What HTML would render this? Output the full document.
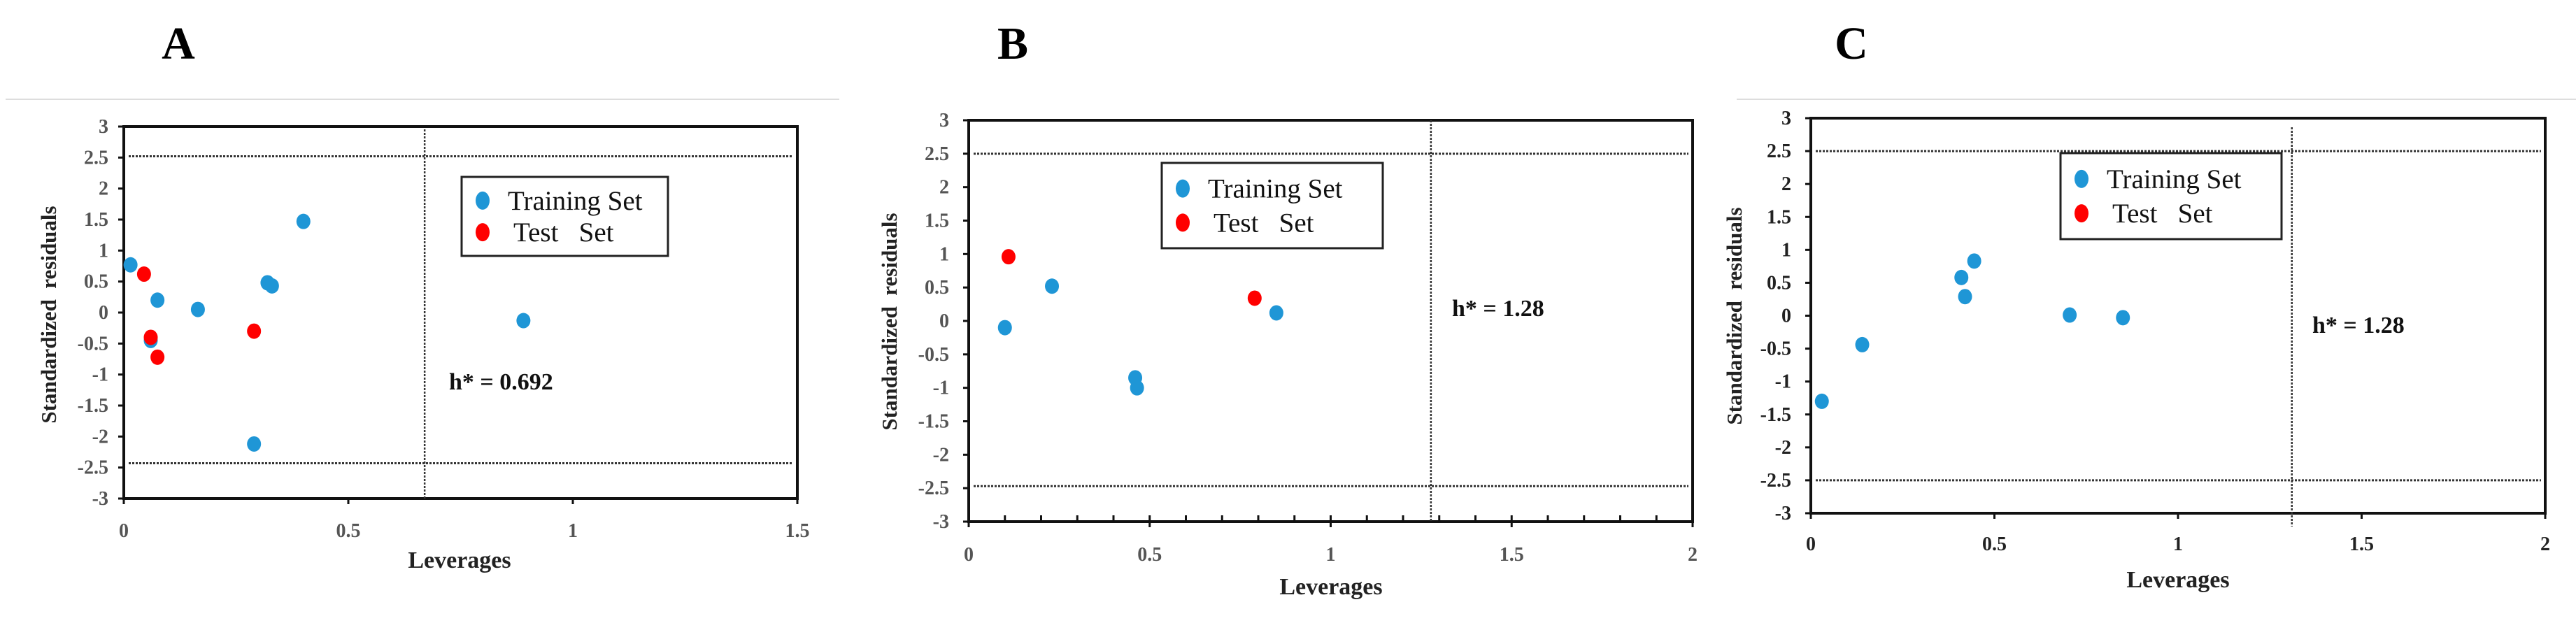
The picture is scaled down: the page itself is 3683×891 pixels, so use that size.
<!DOCTYPE html>
<html><head><meta charset="utf-8"><style>
html,body{margin:0;padding:0;background:#fff;}
svg{display:block;}
text{font-family:"Liberation Serif",serif;white-space:pre;}
</style></head><body>
<svg id="fig" width="3683" height="891" viewBox="0 0 3683 891" xmlns="http://www.w3.org/2000/svg"></svg>
<script>
// Panel A data
const aTrainX = [0.015, 0.075, 0.165, 0.32, 0.33, 0.40, 0.29, 0.89, 0.06];
const aTrainY = [0.77, 0.20, 0.05, 0.48, 0.43, 1.47, -2.12, -0.13, -0.45];
const aTestX = [0.045, 0.06, 0.075, 0.29];
const aTestY = [0.62, -0.40, -0.72, -0.30];
const aXTicks = [0, 0.5, 1, 1.5];
const aHStar = 0.67;
const aHLabel = "h* = 0.692";
// Panel B data
const bTrainX = [0.10, 0.23, 0.46, 0.465, 0.85];
const bTrainY = [-0.10, 0.52, -0.85, -1.0, 0.12];
const bTestX = [0.11, 0.79];
const bTestY = [0.96, 0.34];
const bXTicks = [0, 0.5, 1, 1.5, 2];
const bHStar = 1.277;
const bHLabel = "h* = 1.28";
// Panel C data
const cTrainX = [0.03, 0.14, 0.41, 0.42, 0.445, 0.705, 0.85];
const cTrainY = [-1.30, -0.44, 0.58, 0.29, 0.83, 0.01, -0.03];
const cTestX = [];
const cTestY = [];
const cXTicks = [0, 0.5, 1, 1.5, 2];
const cHStar = 1.31;
const cHLabel = "h* = 1.28";
const yTicks = [3, 2.5, 2, 1.5, 1, 0.5, 0, -0.5, -1, -1.5, -2, -2.5, -3];
const yTickLabels = ["3","2.5","2","1.5","1","0.5","0","-0.5","-1","-1.5","-2","-2.5","-3"];
const warnUpper = [2.52, 2.5, 2.5];
const warnLower = [-2.43, -2.47, -2.5];

const NS = "http://www.w3.org/2000/svg";
const svg = document.getElementById('fig');
function mk(tag, attrs, parent, txt){
  const e = document.createElementNS(NS, tag);
  for (const k in attrs) e.setAttribute(k, attrs[k]);
  if (txt !== undefined) e.textContent = txt;
  (parent||svg).appendChild(e);
  return e;
}

const panels = [
  {id:'a', letter:'A', lx:255, L:177, R:1140, T:181, B:713, xmax:1.5, trX:aTrainX, trY:aTrainY, teX:aTestX, teY:aTestY, xt:aXTicks, h:aHStar, hl:aHLabel,
   hx:642, hy:557, legend:[660,253,295,113], levx:657, levy:812, ytx:70, yty:450, lblR:155, xly:768, minor:false, grey:[8,1200], lblColor:'#555', hlineX0:184, vT:185, vB:713},
  {id:'b', letter:'B', lx:1448, L:1385, R:2420, T:172, B:746, xmax:2, trX:bTrainX, trY:bTrainY, teX:bTestX, teY:bTestY, xt:bXTicks, h:bHStar, hl:bHLabel,
   hx:2076, hy:452, legend:[1661,233,316,122], levx:1903, levy:850, ytx:1272, yty:460, lblR:1357, xly:802, minor:true, grey:null, lblColor:'#555', hlineX0:1392, vT:172, vB:746},
  {id:'c', letter:'C', lx:2647, L:2589, R:3639, T:169, B:734, xmax:2, trX:cTrainX, trY:cTrainY, teX:cTestX, teY:cTestY, xt:cXTicks, h:cHStar, hl:cHLabel,
   hx:3306, hy:476, legend:[2946,219,316,123], levx:3114, levy:840, ytx:2480, yty:452, lblR:2561, xly:787, minor:false, grey:[2483,3683], lblColor:'#222', hlineX0:2596, vT:182, vB:753}
];

panels.forEach((p, i) => {
  const g = mk('g', {});
  
  
  const sx = v => p.L + (v / p.xmax) * (p.R - p.L);
  const sy = v => p.T + ((3 - v) / 6) * (p.B - p.T);

  const t = mk('text', {x:p.lx, y:84, 'font-size':66, 'font-weight':'bold', 'text-anchor':'middle', fill:'#000'}, g, p.letter);
  
  

  if (p.grey) {
    const gl = mk('line', {x1:p.grey[0], x2:p.grey[1], y1:142, y2:142, stroke:'#ddd', 'stroke-width':2}, g);
    
    
  }

  const fr = mk('rect', {x:p.L, y:p.T, width:p.R-p.L, height:p.B-p.T, fill:'none', stroke:'#111', 'stroke-width':4}, g);
  
  

  yTicks.forEach((v, k) => {
    const tk = mk('line', {x1:p.L-8, x2:p.L, y1:sy(v), y2:sy(v), stroke:'#111', 'stroke-width':3}, g);
    
    
    const tl = mk('text', {x:p.lblR, y:sy(v)+9, 'font-size':28, 'font-weight':'bold', 'text-anchor':'end', fill:p.lblColor}, g, yTickLabels[k]);
    
    
  });
  p.xt.forEach(v => {
    const tk = mk('line', {x1:sx(v), x2:sx(v), y1:p.B, y2:p.B+8, stroke:'#111', 'stroke-width':3}, g);
    
    
    const tl = mk('text', {x:sx(v), y:p.xly, 'font-size':28, 'font-weight':'bold', 'text-anchor':'middle', fill:p.lblColor}, g, String(v));
    
    
  });
  if (p.minor) {
    for (let k = 1; k < p.xmax * 10; k++) {
      const v = k / 10;
      const mt = mk('line', {x1:sx(v), x2:sx(v), y1:p.B-9, y2:p.B, stroke:'#111', 'stroke-width':3}, g);
      
      
    }
  }

  [warnUpper[i], warnLower[i]].forEach((v, k) => {
    const hl = mk('line', {x1:p.hlineX0, x2:p.R-6, y1:sy(v), y2:sy(v), stroke:'#333', 'stroke-width':3, 'stroke-dasharray':'3 2'}, g);
    
    
  });
  const vl = mk('line', {x1:sx(p.h), x2:sx(p.h), y1:p.vT, y2:p.vB, stroke:'#333', 'stroke-width':2.5, 'stroke-dasharray':'3 2'}, g);
  
  

  const hlab = mk('text', {x:p.hx, y:p.hy, 'font-size':34, 'font-weight':'bold', fill:'#111'}, g, p.hl);
  
  

  p.trX.forEach((x, k) => {
    const c = mk('ellipse', {cx:sx(x), cy:sy(p.trY[k]), rx:10, ry:11, fill:'#1f96d6'}, g);
    
    
  });
  p.teX.forEach((x, k) => {
    const c = mk('ellipse', {cx:sx(x), cy:sy(p.teY[k]), rx:10, ry:11, fill:'#ff0000'}, g);
    
    
  });

  const [lx, ly, lw, lh] = p.legend;
  const lg = mk('g', {}, g);
  
  
  mk('rect', {x:lx, y:ly, width:lw, height:lh, fill:'#fff', stroke:'#222', 'stroke-width':3}, lg);
  const e1 = mk('ellipse', {cx:lx+30, cy:ly+lh*0.3, rx:10, ry:13, fill:'#1f96d6'}, lg);
  
  
  const t1 = mk('text', {x:lx+66, y:ly+lh*0.3+13, 'font-size':39, fill:'#111'}, lg, 'Training Set');
  
  
  const e2 = mk('ellipse', {cx:lx+30, cy:ly+lh*0.7, rx:10, ry:13, fill:'#ff0000'}, lg);
  
  
  const t2 = mk('text', {x:lx+74, y:ly+lh*0.7+13, 'font-size':39, fill:'#111'}, lg, 'Test\u00a0\u00a0\u00a0Set');
  
  

  const xt = mk('text', {x:p.levx, y:p.levy, 'font-size':34, 'font-weight':'bold', 'text-anchor':'middle', fill:'#222'}, g, 'Leverages');
  
  
  const yt = mk('text', {x:p.ytx, y:p.yty, 'font-size':31, 'font-weight':'bold', 'text-anchor':'middle', fill:'#222', transform:`rotate(-90 ${p.ytx} ${p.yty})`, dy:10}, g, 'Standardized\u00a0\u00a0residuals');
  
  
});
</script>
</body></html>
